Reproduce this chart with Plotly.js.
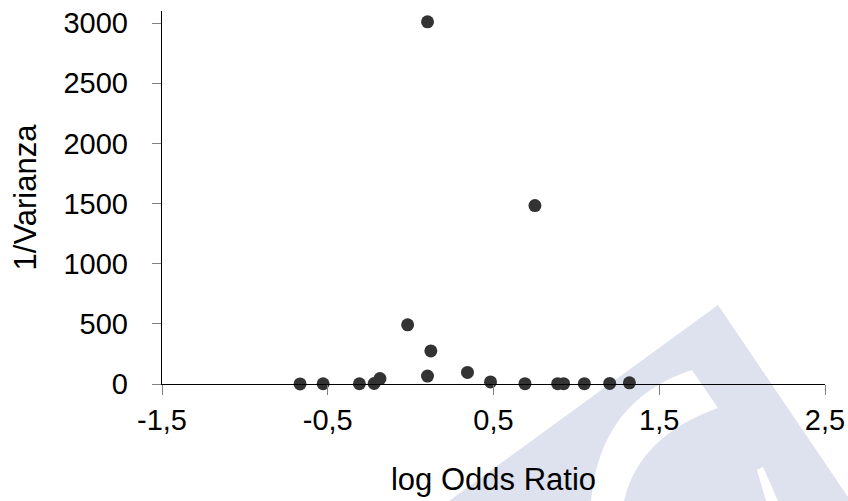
<!DOCTYPE html>
<html>
<head>
<meta charset="utf-8">
<script src="https://cdn.plot.ly/plotly-3.0.1.min.js"></script>
<style>
  html, body { margin: 0; padding: 0; background: #ffffff; }
  #chart { width: 848px; height: 501px; }
</style>
</head>
<body>
<div id="chart"></div>
<script>
// Funnel plot: log odds ratio of each study against its precision (1/variance)
const logOddsRatio = [-0.667, -0.528, -0.309, -0.220, -0.185, -0.018, 0.102, 0.102, 0.122,
                      0.343, 0.482, 0.690, 0.750, 0.887, 0.923, 1.048, 1.201, 1.320];
const inverseVariance = [1, 2, 2, 4, 45, 492, 3010, 66, 275,
                         96, 17, 3, 1483, 3, 3, 3, 5, 10];

const xTickValues = [-1.5, -0.5, 0.5, 1.5, 2.5];
const xTickLabels = ['-1,5', '-0,5', '0,5', '1,5', '2,5'];
const yTickValues = [0, 500, 1000, 1500, 2000, 2500, 3000];
const yTickLabels = ['0', '500', '1000', '1500', '2000', '2500', '3000'];

const W = 848, H = 501;
const margin = { l: 162, r: 23, t: 11, b: 117 };
const plotW = W - margin.l - margin.r;
const plotH = H - margin.t - margin.b;

// Convert page pixels to paper coordinates for the background emblem
function px(x, y) {
  return ((x - margin.l) / plotW).toFixed(4) + ',' + ((H - margin.b - y) / plotH).toFixed(4);
}

const emblemBlue = 'rgb(221,226,238)';
const shapes = [
  {
    type: 'path', xref: 'paper', yref: 'paper', layer: 'below',
    path: 'M' + px(718, 305) + ' L' + px(848, 497) + ' L' + px(848, 501) + ' L' + px(449, 501) + ' Z',
    fillcolor: emblemBlue, line: { width: 0 }
  },
  {
    type: 'path', xref: 'paper', yref: 'paper', layer: 'below',
    path: 'M' + px(692, 370) + ' Q' + px(600, 400) + ' ' + px(591, 501) +
          ' L' + px(624, 501) + ' Q' + px(639, 436) + ' ' + px(718, 408) + ' Z',
    fillcolor: '#ffffff', line: { width: 0 }
  },
  {
    type: 'path', xref: 'paper', yref: 'paper', layer: 'below',
    path: 'M' + px(757, 470) + ' L' + px(763, 467) + ' L' + px(778, 501) + ' L' + px(766, 501) + ' Z',
    fillcolor: '#ffffff', line: { width: 0 }
  }
];

const trace = {
  type: 'scatter',
  mode: 'markers',
  x: logOddsRatio,
  y: inverseVariance,
  marker: { color: '#333333', size: 13, line: { width: 0 } },
  cliponaxis: false,
  hoverinfo: 'x+y'
};

const font = { family: '"Liberation Sans", Arial, sans-serif', color: '#000000' };

const layout = {
  width: W,
  height: H,
  margin: margin,
  paper_bgcolor: '#ffffff',
  plot_bgcolor: 'rgba(0,0,0,0)',
  showlegend: false,
  font: font,
  shapes: shapes,
  xaxis: {
    range: [-1.5, 2.5],
    tickmode: 'array',
    tickvals: xTickValues,
    ticktext: xTickLabels,
    ticks: 'outside',
    ticklen: 10,
    tickwidth: 1,
    tickcolor: '#808080',
    tickfont: { family: font.family, size: 29, color: '#000000' },
    showgrid: false,
    zeroline: false,
    showline: true,
    linecolor: '#000000',
    linewidth: 1.3,
    automargin: false,
    title: { text: 'log Odds Ratio', font: { family: font.family, size: 31, color: '#000000' }, standoff: 33 }
  },
  yaxis: {
    range: [0, 3100],
    tickmode: 'array',
    tickvals: yTickValues,
    ticktext: yTickLabels,
    ticks: 'outside',
    ticklen: 9,
    tickwidth: 1,
    tickcolor: '#808080',
    ticklabelstandoff: 18,
    tickfont: { family: font.family, size: 29, color: '#000000' },
    showgrid: false,
    zeroline: false,
    showline: true,
    linecolor: '#000000',
    linewidth: 1.3,
    automargin: false,
    title: { text: '1/Varianza', font: { family: font.family, size: 31, color: '#000000' }, standoff: 17 }
  }
};

Plotly.newPlot('chart', [trace], layout, { displayModeBar: false, staticPlot: true });
</script>
</body>
</html>
